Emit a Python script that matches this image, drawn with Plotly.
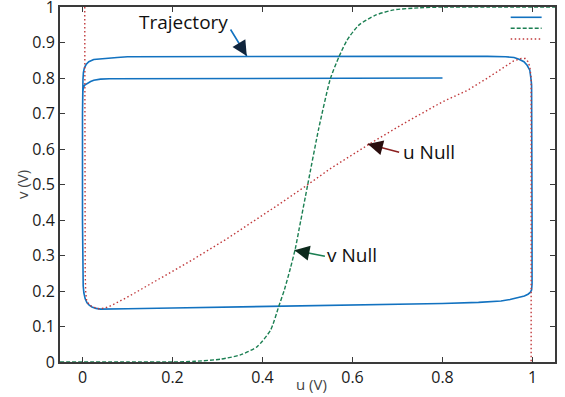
import plotly.graph_objects as go

# Trajectory (u, v)
traj_u = [0.8, 0.6, 0.4, 0.2, 0.1, 0.06, 0.04, 0.025, 0.018, 0.01, 0.005, 0.003, 0.0015, 0.0008, 0.0003, 0.0,
          0.0, 0.0005, 0.0015, 0.003, 0.006, 0.01, 0.015, 0.021, 0.03, 0.04, 0.06, 0.1, 0.2, 0.3, 0.44, 0.6,
          0.8, 0.88, 0.93, 0.95, 0.97, 0.982, 0.99, 0.995, 0.998, 0.999, 0.999, 0.999, 0.998, 0.997, 0.994,
          0.988, 0.981, 0.97, 0.959, 0.94, 0.9, 0.7, 0.5, 0.3, 0.1, 0.077, 0.055, 0.04, 0.025, 0.014, 0.008,
          0.004, 0.002, 0.001, 0.0005, 0.0]
traj_v = [0.800, 0.800, 0.800, 0.800, 0.799, 0.798, 0.797, 0.794, 0.790, 0.785, 0.780, 0.776, 0.770, 0.760, 0.740, 0.700,
          0.400, 0.250, 0.215, 0.195, 0.178, 0.167, 0.160, 0.155, 0.151, 0.149, 0.149, 0.150, 0.152, 0.154, 0.158, 0.161,
          0.165, 0.168, 0.172, 0.176, 0.181, 0.186, 0.191, 0.196, 0.203, 0.220, 0.400, 0.700, 0.780, 0.794, 0.822,
          0.836, 0.846, 0.853, 0.858, 0.860, 0.861, 0.861, 0.861, 0.861, 0.860, 0.858, 0.856, 0.855, 0.852, 0.846, 0.838,
          0.828, 0.815, 0.795, 0.770, 0.700]

# u nullcline
unull_u = [0.005, 0.005, 0.005, 0.006, 0.007, 0.009, 0.014, 0.021, 0.036, 0.05, 0.062, 0.099, 0.173, 0.247, 0.322,
           0.396, 0.44, 0.501, 0.551, 0.64, 0.714, 0.8, 0.855, 0.9, 0.93, 0.958, 0.975, 0.984, 0.99, 0.994, 0.997,
           0.997, 0.997, 0.997]
unull_v = [1.0, 0.7, 0.4, 0.25, 0.2, 0.175, 0.163, 0.156, 0.150, 0.152, 0.158, 0.182, 0.236, 0.290, 0.348,
           0.409, 0.447, 0.500, 0.545, 0.616, 0.672, 0.733, 0.765, 0.800, 0.826, 0.848, 0.855, 0.855, 0.846, 0.832, 0.800,
           0.600, 0.300, 0.0]

# v nullcline
vnull_u = [-0.05, 0.1, 0.2, 0.25, 0.307, 0.351, 0.388, 0.418, 0.436, 0.449, 0.462, 0.473, 0.481, 0.501, 0.525,
           0.551, 0.570, 0.588, 0.614, 0.651, 0.692, 0.75, 0.8, 0.9, 1.05]
vnull_v = [0.0, 0.0, 0.0, 0.002, 0.008, 0.020, 0.043, 0.090, 0.156, 0.205, 0.264, 0.320, 0.372, 0.503, 0.658,
           0.799, 0.860, 0.907, 0.949, 0.977, 0.992, 0.998, 1.0, 1.0, 1.0]

x_ticks = [0, 0.2, 0.4, 0.6, 0.8, 1]
x_ticklabels = ["0", "0.2", "0.4", "0.6", "0.8", "1"]
y_ticks = [0, 0.1, 0.2, 0.3, 0.4, 0.5, 0.6, 0.7, 0.8, 0.9, 1]
y_ticklabels = ["0", "0.1", "0.2", "0.3", "0.4", "0.5", "0.6", "0.7", "0.8", "0.9", "1"]

BLUE = "#1272c0"
GREEN = "#1b7f52"
RED = "#c0393b"
FONT = "Open Sans"
GREEN_DASH = "4px,2px"
RED_DASH = "1.5px,2.5px"

fig = go.Figure()
fig.add_trace(go.Scatter(x=traj_u, y=traj_v, mode="lines", name="trajectory",
                         line=dict(color=BLUE, width=1.6)))
fig.add_trace(go.Scatter(x=vnull_u, y=vnull_v, mode="lines", name="v null",
                         line=dict(color=GREEN, width=1.4, dash=GREEN_DASH, shape="spline", smoothing=0.6)))
fig.add_trace(go.Scatter(x=unull_u, y=unull_v, mode="lines", name="u null",
                         line=dict(color=RED, width=1.4, dash=RED_DASH)))

axis_common = dict(showgrid=False, zeroline=False, showline=True, linecolor="#3a3a3a", linewidth=2,
                   ticks="inside", ticklen=5, tickwidth=1.2, tickcolor="#3a3a3a", mirror="ticks",
                   automargin=False, ticklabeloverflow="allow",
                   tickfont=dict(family=FONT, size=16, color="#1a1a1a"))
fig.update_xaxes(range=[-0.05, 1.05], tickvals=x_ticks, ticktext=x_ticklabels, **axis_common)
fig.update_yaxes(range=[0, 1.0001], tickvals=y_ticks, ticktext=y_ticklabels, **axis_common)

ann = []
# axis titles
ann.append(dict(text="u (V)", xref="paper", yref="paper", x=(311 - 60) / 495, y=-22 / 355,
                showarrow=False, font=dict(family=FONT, size=15, color="#444"), xanchor="center", yanchor="middle"))
ann.append(dict(text="v (V)", xref="paper", yref="paper", x=-38 / 495, y=(362 - 185) / 355, textangle=-90,
                showarrow=False, font=dict(family=FONT, size=15, color="#444"), xanchor="center", yanchor="middle"))
# labels
ann.append(dict(text="Trajectory", x=0.224, y=0.958, showarrow=False,
                font=dict(family=FONT, size=19, color="#111")))
ann.append(dict(text="u Null", x=0.769, y=0.592, showarrow=False,
                font=dict(family=FONT, size=19, color="#111")))
ann.append(dict(text="v Null", x=0.598, y=0.301, showarrow=False,
                font=dict(family=FONT, size=19, color="#111")))
# arrows: (tip_u, tip_v, tail_u, tail_v, line color, head color)
arrows = [(0.365, 0.862, 0.327, 0.941, BLUE, "#10253d"),
          (0.634, 0.614, 0.707, 0.590, "#8b1f1f", "#2a0d0d"),
          (0.471, 0.315, 0.542, 0.297, GREEN, "#0d2a1c")]
for tu, tv, au, av, lc, hc in arrows:
    ann.append(dict(text="", x=tu, y=tv, ax=au, ay=av, axref="x", ayref="y", showarrow=True,
                    arrowhead=0, arrowwidth=1.6, arrowcolor=lc))
    ann.append(dict(text="", x=tu, y=tv, ax=tu + (au - tu) * 0.3, ay=tv + (av - tv) * 0.3, axref="x", ayref="y",
                    showarrow=True, arrowhead=2, arrowsize=1.5, arrowwidth=2.0, arrowcolor=hc))

# legend samples (legend without labels), top-right corner
shapes = []
legend_styles = [(BLUE, None, 1.6), (GREEN, GREEN_DASH, 1.4), (RED, RED_DASH, 1.4)]
legend_y = [0.971, 0.940, 0.910]
for (col, dash, w), ly in zip(legend_styles, legend_y):
    ln = dict(color=col, width=w)
    if dash:
        ln["dash"] = dash
    shapes.append(dict(type="line", xref="paper", yref="paper", x0=0.9105, x1=0.973, y0=ly, y1=ly, line=ln))

fig.update_layout(
    width=565, height=397,
    margin=dict(l=60, r=10, t=7, b=35),
    paper_bgcolor="white", plot_bgcolor="white",
    showlegend=False,
    annotations=ann,
    shapes=shapes,
    font=dict(family=FONT),
)

fig.write_html("out.html", config={"displayModeBar": False},
               post_script="document.body.style.margin='0';document.body.style.overflow='hidden';")
